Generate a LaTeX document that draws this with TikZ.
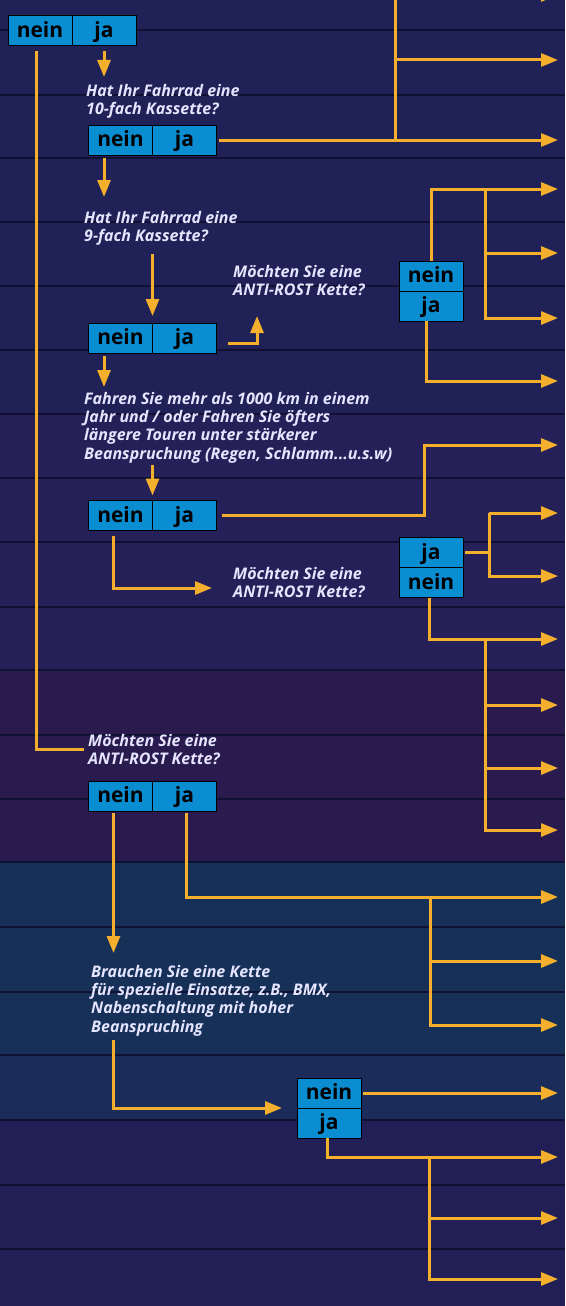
\documentclass[tikz,border=0pt]{standalone}
\usepackage{fontspec}
\setmainfont{Open Sans}
\usetikzlibrary{arrows.meta,positioning,calc}
\definecolor{gelb}{HTML}{F4B02C}
\definecolor{feldblau}{HTML}{0B8DD2}
\definecolor{trenn}{HTML}{0F1034}
\definecolor{bandA}{HTML}{1F2157}
\definecolor{bandB}{HTML}{262059}
\definecolor{bandC}{HTML}{2A1B4F}
\definecolor{bandD}{HTML}{163058}
\definecolor{bandE}{HTML}{1B2B5A}
\definecolor{bandF}{HTML}{211F56}
\tikzset{
  feld/.style={draw=black,fill=feldblau,line width=1pt,minimum width=64pt,minimum height=30pt,
    inner sep=0pt,outer sep=0pt,text height=15pt,text depth=2pt,
    font=\fontsize{21}{21}\selectfont\bfseries},
  frage/.style={anchor=north west,align=left,inner sep=0pt,text=white!90!blue,
    font=\fontsize{16}{18.3}\selectfont\bfseries\itshape},
  linie/.style={draw=gelb,line width=3pt},
  pfeil/.style={linie,-{Triangle[length=17pt,width=13pt]}},
}

\begin{document}
\begin{tikzpicture}[x=1pt,y=-1pt]
  \useasboundingbox (0,0) rectangle (565,1306);
  \clip (0,0) rectangle (565,1306);
  % hintergrund
  \fill[bandA] (0,0) rectangle (565,414);
  \fill[bandB] (0,414) rectangle (565,670);
  \fill[bandC] (0,670) rectangle (565,862);
  \fill[bandD] (0,862) rectangle (565,1055);
  \fill[bandE] (0,1055) rectangle (565,1120);
  \fill[bandF] (0,1120) rectangle (565,1306);
  \foreach \y in {30,95,158,222,286,350,414,478,542,607,670,735,799,862,927,992,1055,1120,1185,1249}
    \draw[trenn,line width=2pt] (0,\y) -- (565,\y);
  \foreach \i/\y in {0/-5,1/60,2/140,3/189,4/253,5/318,6/381,7/445,8/513,9/576,10/639,
      11/705,12/768,13/830,14/897,15/961,16/1025,17/1093,18/1157,19/1218,20/1279}
    \coordinate (o\i) at (558,\y);

  % felder
  \node[feld] (n1) at (40,31) {nein};
  \node[feld,right=0pt of n1] (j1) {ja};
  \node[feld] (n2) at (120.5,140) {nein};
  \node[feld,right=0pt of n2] (j2) {ja};
  \node[feld] (n3) at (120.5,338) {nein};
  \node[feld,right=0pt of n3] (j3) {ja};
  \node[feld] (n4) at (120.5,515.5) {nein};
  \node[feld,right=0pt of n4] (j4) {ja};
  \node[feld] (n5) at (120.5,796) {nein};
  \node[feld,right=0pt of n5] (j5) {ja};
  \node[feld] (rn1) at (431,276) {nein};
  \node[feld,below=0pt of rn1] (rj1) {ja};
  \node[feld] (rj2) at (431,552.5) {ja};
  \node[feld,below=0pt of rj2] (rn2) {nein};
  \node[feld] (bn) at (329,1093) {nein};
  \node[feld,below=0pt of bn] (bj) {ja};

  % fragen
  \node[frage] (q1) at (86,84) {Hat Ihr Fahrrad eine\\10-fach Kassette?};
  \node[frage] (q2) at (84,211) {Hat Ihr Fahrrad eine\\9-fach Kassette?};
  \node[frage] (q3) at (84,392) {Fahren Sie mehr als 1000 km in einem\\Jahr und / oder Fahren Sie öfters\\längere Touren unter stärkerer\\Beanspruchung (Regen, Schlamm...u.s.w)};
  \node[frage] (q4) at (233,265) {Möchten Sie eine\\ANTI-ROST Kette?};
  \node[frage] (q5) at (233,567) {Möchten Sie eine\\ANTI-ROST Kette?};
  \node[frage] (q6) at (88,734) {Möchten Sie eine\\ANTI-ROST Kette?};
  \node[frage] (q7) at (91,965) {Brauchen Sie eine Kette\\für spezielle Einsatze, z.B., BMX,\\Nabenschaltung mit hoher\\Beanspruching};

  % oben
  \coordinate (t0) at (395,-5);
  \draw[pfeil] (t0) -- (o0);
  \draw[linie] (t0) -- (t0 |- o2);
  \draw[pfeil] (t0 |- o1) -- (o1);
  \draw[pfeil,shorten <=5pt,shorten >=7pt] (j1.south) -- (j1.south |- q1.north);
  \draw[linie,shorten <=5pt,shorten >=4pt] ([xshift=-4pt]n1.south) |- (q6.west);
  \draw[pfeil,shorten <=2pt] (j2.east) -- (o2);
  \draw[pfeil,shorten <=3pt,shorten >=14pt] (j1.south |- n2.south) -- (j1.south |- q2.north);

  % 9-fach
  \draw[pfeil,shorten <=8pt,shorten >=7pt] (n3.north east |- q2.south) -- (n3.north east);
  \coordinate (k1) at (257,316);
  \draw[pfeil,shorten <=11pt] ([yshift=-5pt]j3.east) -| (k1);
  \draw[pfeil,shorten <=3pt,shorten >=5pt] (j1.south |- n3.south) -- (j1.south |- q3.north);
  \draw[pfeil] (rn1.north) |- (o3);
  \coordinate (b1) at (485,189);
  \draw[pfeil] (b1) |- (o5);
  \draw[pfeil] (b1 |- o4) -- (o4);
  \draw[pfeil] ([xshift=-5pt]rj1.south) |- (o6);

  % 1000 km
  \draw[pfeil,shorten <=2pt,shorten >=5pt] (n4.north east |- q3.south) -- (n4.north east);
  \coordinate (k2) at (424,445);
  \draw[pfeil,shorten <=5pt] (j4.east) -| (k2) -- (o7);
  \coordinate (k3) at (212,588);
  \draw[pfeil,shorten <=5pt] ([xshift=-7pt]n4.south) |- (k3);
  \coordinate (b2) at (489,513);
  \draw[linie,shorten <=2pt] (rj2.east) -- (rj2.east -| b2);
  \draw[pfeil] (b2) -- (o8);
  \draw[pfeil] (b2) |- (o9);
  \draw[pfeil] ([xshift=-2pt]rn2.south) |- (o10);
  \coordinate (b3) at (485,639);
  \draw[pfeil] (b3) |- (o13);
  \draw[pfeil] (b3 |- o11) -- (o11);
  \draw[pfeil] (b3 |- o12) -- (o12);

  % anti-rost
  \draw[pfeil,shorten <=2pt,shorten >=12pt] ([xshift=-7pt]n5.south) -- ([xshift=-7pt]n5.south |- q7.north);
  \draw[pfeil,shorten <=2pt] ([xshift=2pt]j5.south) |- (o14);
  \coordinate (b4) at (430,897);
  \draw[pfeil] (b4) |- (o16);
  \draw[pfeil] (b4 |- o15) -- (o15);

  % spezielle einsatze
  \draw[pfeil,shorten >=15pt] ($(q7.south west)+(22,4)$) |- (bn.south west);
  \draw[pfeil,shorten <=2pt] (bn.east) -- (o17);
  \draw[pfeil] ([xshift=-2pt]bj.south) |- (o18);
  \coordinate (b5) at (429,1157);
  \draw[pfeil] (b5) |- (o20);
  \draw[pfeil] (b5 |- o19) -- (o19);
\end{tikzpicture}
\end{document}
